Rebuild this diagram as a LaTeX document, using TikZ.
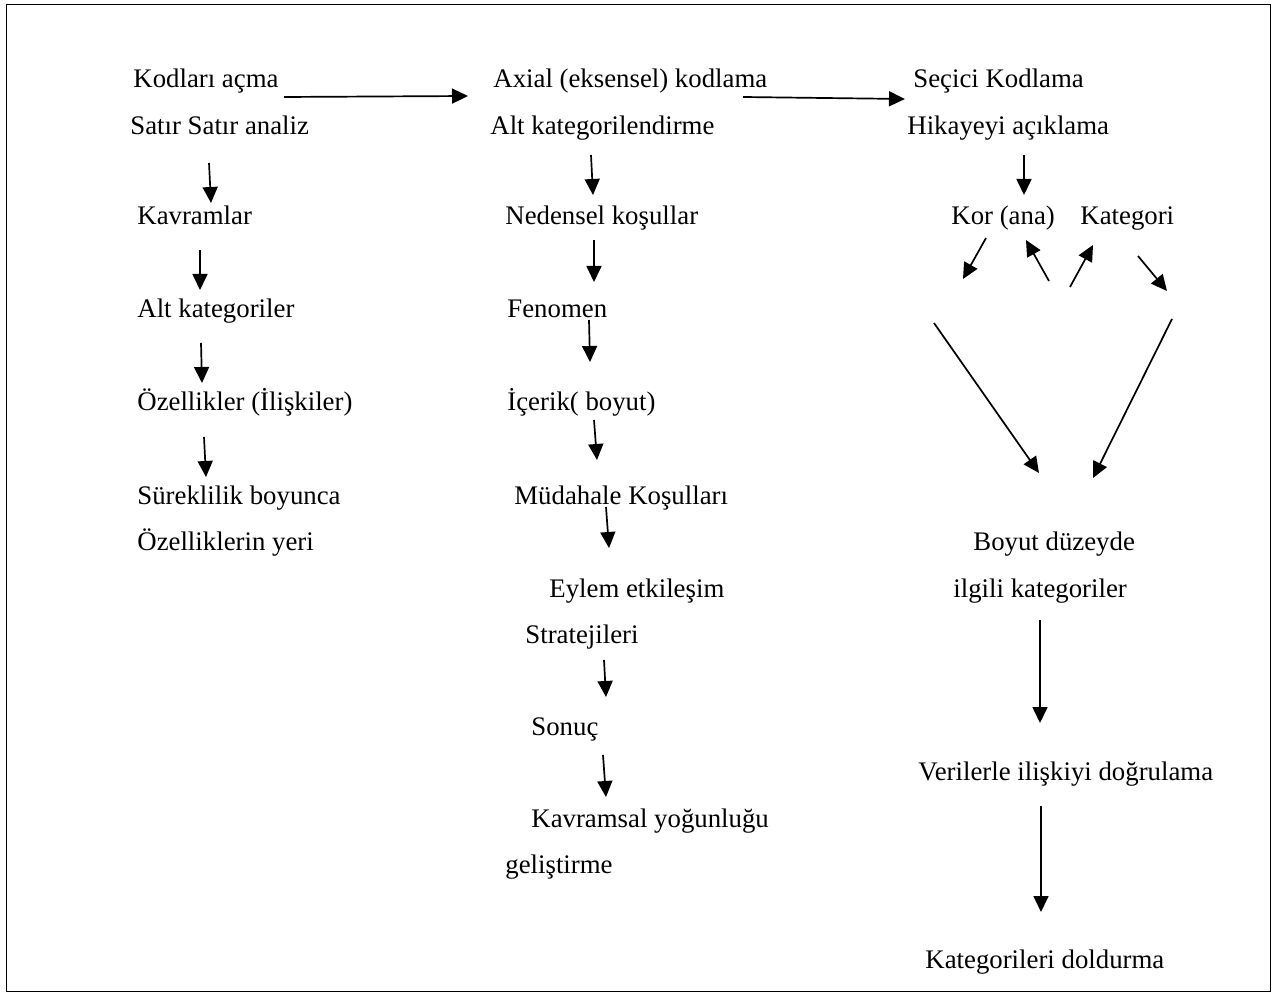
\documentclass[tikz,border=0pt]{standalone}
\usepackage{fontspec}
\setmainfont{Liberation Serif}
\usetikzlibrary{arrows.meta}
\begin{document}
\begin{tikzpicture}[x=0.5pt,y=-0.5pt,
  lbl/.style={anchor=base west,inner sep=0pt,font=\fontsize{13.4pt}{16pt}\selectfont},
  arr/.style={line width=0.85pt,-{Triangle[length=8pt,width=7.5pt]}}]
\useasboundingbox (0,0) rectangle (1275,994);
\draw[line width=0.5pt] (6,5) rectangle (1270,991);
% column 1
\node[lbl] (k1) at (133,88) {Kodları açma};
\node[lbl] (k2) at (130,135) {Satır Satır analiz};
\node[lbl] (k3) at (137,225) {Kavramlar};
\node[lbl] (k4) at (137,318) {Alt kategoriler};
\node[lbl] (k5) at (137,411) {Özellikler (İlişkiler)};
\node[lbl] (k6) at (137,505) {Süreklilik boyunca};
\node[lbl] (k7) at (137,551) {Özelliklerin yeri};
% column 2
\node[lbl] (a1) at (493,88) {Axial (eksensel) kodlama};
\node[lbl] (a2) at (490,135) {Alt kategorilendirme};
\node[lbl] (a3) at (505,225) {Nedensel koşullar};
\node[lbl] (a4) at (507,318) {Fenomen};
\node[lbl] (a5) at (507,411) {İçerik( boyut)};
\node[lbl] (a6) at (514,505) {Müdahale Koşulları};
\node[lbl] (a7) at (549,597) {Eylem etkileşim};
\node[lbl] (a8) at (525,643) {Stratejileri};
\node[lbl] (a9) at (531,735) {Sonuç};
\node[lbl] (a10) at (531,827) {Kavramsal yoğunluğu};
\node[lbl] (a11) at (505,873) {geliştirme};
% column 3
\node[lbl] (s1) at (913,88) {Seçici Kodlama};
\node[lbl] (s2) at (907,135) {Hikayeyi açıklama};
\node[lbl] (s3) at (951,225) {Kor (ana)};
\node[lbl] (s4) at (1080,225) {Kategori};
\node[lbl] (s5) at (973,551) {Boyut düzeyde};
\node[lbl] (s6) at (953,597) {ilgili kategoriler};
\node[lbl] (s7) at (918,780) {Verilerle ilişkiyi doğrulama};
\node[lbl] (s8) at (925,968) {Kategorileri doldurma};
% arrow end points
\coordinate (h1a) at (284,97); \coordinate (h1b) at (468,96);
\coordinate (h2a) at (743,97); \coordinate (h2b) at (905,99);
\coordinate (c1a) at (209,163); \coordinate (c1b) at (211,203);
\coordinate (c2a) at (200,250); \coordinate (c2b) at (200,290);
\coordinate (c3a) at (201,343); \coordinate (c3b) at (202,383);
\coordinate (c4a) at (204,437); \coordinate (c4b) at (206,477);
\coordinate (d1a) at (591,155); \coordinate (d1b) at (593,195);
\coordinate (d2a) at (594,240); \coordinate (d2b) at (594,282);
\coordinate (d3a) at (589,320); \coordinate (d3b) at (590,362);
\coordinate (d4a) at (594,420); \coordinate (d4b) at (597,460);
\coordinate (d5a) at (606,507); \coordinate (d5b) at (609,548);
\coordinate (d6a) at (604,660); \coordinate (d6b) at (606,697);
\coordinate (d7a) at (603,755); \coordinate (d7b) at (606,797);
\coordinate (e1a) at (1024,155); \coordinate (e1b) at (1024,195);
\coordinate (e2a) at (986,238); \coordinate (e2b) at (963,279);
\coordinate (e3a) at (1049,281); \coordinate (e3b) at (1026,240);
\coordinate (e4a) at (1070,287); \coordinate (e4b) at (1093,245);
\coordinate (e5a) at (1138,256); \coordinate (e5b) at (1167,291);
\coordinate (e6a) at (934,323); \coordinate (e6b) at (1039,473);
\coordinate (e7a) at (1172,319); \coordinate (e7b) at (1093,478);
\coordinate (e8a) at (1040,620); \coordinate (e8b) at (1040,723);
\coordinate (e9a) at (1041,806); \coordinate (e9b) at (1041,912);
\foreach \p in {h1,h2,c1,c2,c3,c4,d1,d2,d3,d4,d5,d6,d7,e1,e2,e3,e4,e5,e6,e7,e8,e9}
  \draw[arr] (\p a) -- (\p b);
\end{tikzpicture}
\end{document}
